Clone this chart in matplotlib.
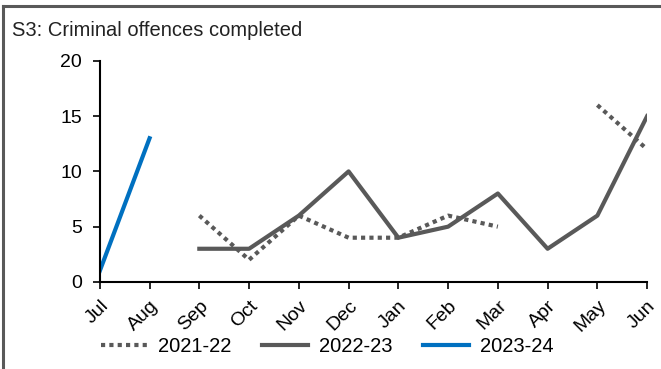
import numpy as np
import matplotlib
matplotlib.use("Agg")
from matplotlib import pyplot as plt
from matplotlib.lines import Line2D

plt.rcParams['font.family'] = ['Liberation Sans', 'DejaVu Sans']

months = ['Jul', 'Aug', 'Sep', 'Oct', 'Nov', 'Dec', 'Jan', 'Feb', 'Mar', 'Apr', 'May', 'Jun']
nan = np.nan
fy2122 = [nan, nan, 6, 2, 6, 4, 4, 6, 5, nan, 16, 12]
fy2223 = [nan, nan, 3, 3, 6, 10, 4, 5, 8, 3, 6, 15]
fy2324 = [1, 13, nan, nan, nan, nan, nan, nan, nan, nan, nan, nan]
y_ticks = [0, 5, 10, 15, 20]

grey = '#595959'
blue = '#0070C0'

fig = plt.figure(figsize=(6.61, 3.69), dpi=100)
ax = fig.add_axes([0.151, 0.236, 0.828, 0.599])

x = np.arange(len(months))
ax.plot(x, fy2122, color=grey, lw=3, linestyle=(0, (1, 1)), label='2021-22')
ax.plot(x, fy2223, color=grey, lw=3, label='2022-23')
ax.plot(x, fy2324, color=blue, lw=3, label='2023-24')

ax.set_xlim(0, len(months) - 1)
ax.set_ylim(0, 20)
ax.set_yticks(y_ticks)
ax.set_xticks(x)
ax.set_xticklabels(months, rotation=45, ha='right', rotation_mode='anchor')
ax.tick_params(axis='both', labelsize=14, length=5, width=1.2, color='black')
ax.tick_params(axis='x', pad=6)
ax.tick_params(axis='y', pad=8)

for s in ['top', 'right']:
    ax.spines[s].set_visible(False)
for s in ['left', 'bottom']:
    ax.spines[s].set_linewidth(1.5)
    ax.spines[s].set_color('black')

fig.text(0.018, 0.918, 'S3: Criminal offences completed', fontsize=14.5,
         va='center', ha='left', color='#222222')

fig.legend(loc='center', bbox_to_anchor=(0.495, 0.062), ncol=3, frameon=False,
           fontsize=14.5, handlelength=2.3, handletextpad=0.55, columnspacing=1.5)

# chart frame (left and top edges)
fig.add_artist(Line2D([0.005, 0.005], [0.0, 0.985], transform=fig.transFigure,
                      color=grey, lw=2.2))
fig.add_artist(Line2D([0.005, 1.0], [0.985, 0.985], transform=fig.transFigure,
                      color=grey, lw=2.2))

fig.savefig('out.png', dpi=100)
